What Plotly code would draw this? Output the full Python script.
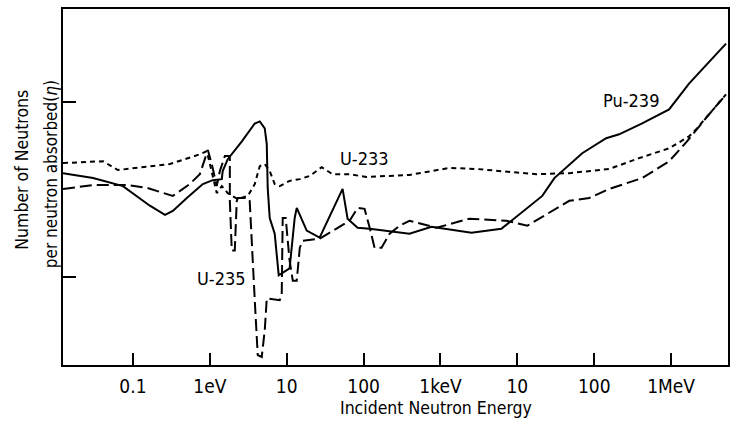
import plotly.graph_objects as go

# Incident neutron energy (eV) and eta values
pu239_E = [0.0123, 0.0303, 0.0741, 0.113, 0.166, 0.261, 0.330, 0.502, 0.811, 1.09,
           1.43, 1.47, 1.71, 2.61, 3.84, 4.46, 5.18, 5.50, 5.66, 6.01,
           6.98, 7.87, 10.9, 12.7, 13.5, 18.2, 26.8, 53.3, 61.9, 83.6,
           120, 395, 764, 2530, 6190, 21100, 30300, 69800, 143000, 211000,
           420000, 942000, 1.71e6, 5.18e6]
pu239_eta = [2.298, 2.284, 2.261, 2.233, 2.205, 2.179, 2.190, 2.227, 2.267, 2.278,
             2.281, 2.304, 2.338, 2.389, 2.440, 2.446, 2.426, 2.381, 2.256, 2.170,
             2.125, 2.006, 2.026, 2.170, 2.199, 2.134, 2.114, 2.253, 2.168, 2.142,
             2.139, 2.125, 2.145, 2.128, 2.139, 2.233, 2.284, 2.355, 2.398, 2.409,
             2.440, 2.480, 2.554, 2.668]

u235_E = [0.0123, 0.0303, 0.0836, 0.152, 0.330, 0.549, 0.741, 0.942, 1.06, 1.23,
          1.35, 1.57, 1.82, 1.82, 1.93, 2.11, 2.24, 2.31, 3.12, 3.30,
          3.84, 4.20, 4.73, 5.18, 5.50, 8.11, 8.61, 8.87, 9.70, 10.9,
          12.0, 13.5, 14.8, 16.1, 26.8, 39.5, 65.8, 83.6, 103, 120,
          139, 171, 218, 294, 395, 887, 2380, 7200, 13500, 47300,
          86100, 157000, 420000, 942000, 1.61e6, 3.12e6, 5.18e6]
u235_eta = [2.253, 2.264, 2.264, 2.256, 2.233, 2.267, 2.295, 2.364, 2.324, 2.261,
            2.304, 2.347, 2.347, 2.219, 2.077, 2.077, 2.219, 2.227, 2.227, 2.219,
            1.935, 1.778, 1.773, 1.849, 1.940, 1.935, 1.949, 2.170, 2.170, 2.048,
            1.991, 1.991, 2.085, 2.105, 2.111, 2.134, 2.162, 2.199, 2.196, 2.142,
            2.085, 2.085, 2.125, 2.148, 2.162, 2.142, 2.168, 2.162, 2.148, 2.219,
            2.227, 2.253, 2.284, 2.332, 2.389, 2.466, 2.523]

u233_E = [0.0123, 0.0408, 0.0638, 0.135, 0.303, 0.741, 0.914, 1.09, 1.23, 1.43,
          1.71, 2.31, 3.12, 3.84, 4.46, 5.18, 6.01, 6.98, 8.11, 10.9,
          14.8, 19.9, 28.5, 39.5, 65.8, 109, 395, 1310, 2940, 17700,
          47300, 157000, 384000, 942000, 1.71e6, 2.11e6, 5.18e6]
u233_eta = [2.327, 2.332, 2.307, 2.315, 2.324, 2.352, 2.361, 2.290, 2.241, 2.261,
            2.241, 2.224, 2.233, 2.267, 2.318, 2.324, 2.304, 2.267, 2.261, 2.276,
            2.281, 2.290, 2.315, 2.295, 2.295, 2.287, 2.293, 2.313, 2.310, 2.295,
            2.298, 2.310, 2.341, 2.369, 2.403, 2.423, 2.523]

x_tickvals = [0.1, 1, 10, 100, 1e3, 1e4, 1e5, 1e6]
x_ticktext = ["0.1", "1eV", "10", "100", "1keV", "10", "100", "1MeV"]
y_tickvals = [2.0, 2.5]

FONT = "Liberation Sans Narrow, DejaVu Sans Condensed, sans-serif"

fig = go.Figure()
fig.add_trace(go.Scatter(x=pu239_E, y=pu239_eta, mode="lines", name="Pu-239",
                         line=dict(color="black", width=2)))
fig.add_trace(go.Scatter(x=u235_E, y=u235_eta, mode="lines", name="U-235",
                         line=dict(color="black", width=2, dash="12px,5px")))
fig.add_trace(go.Scatter(x=u233_E, y=u233_eta, mode="lines", name="U-233",
                         line=dict(color="black", width=2, dash="5px,4px")))

fig.update_layout(
    width=737, height=425,
    margin=dict(l=63, r=8, t=7, b=60),
    paper_bgcolor="white", plot_bgcolor="white",
    showlegend=False,
    font=dict(family=FONT, color="black", size=17),
    xaxis=dict(type="log", range=[-1.91, 6.74], tickvals=x_tickvals, ticktext=x_ticktext,
               ticks="inside", ticklen=12, tickwidth=1.5, tickcolor="black",
               ticklabelstandoff=3,
               showline=True, linecolor="black", linewidth=2, mirror=True,
               showgrid=False, zeroline=False, tickfont=dict(size=19)),
    yaxis=dict(range=[1.75, 2.767], tickvals=y_tickvals, showticklabels=False,
               ticks="inside", ticklen=13, tickwidth=1.5, tickcolor="black",
               showline=True, linecolor="black", linewidth=2, mirror=True,
               showgrid=False, zeroline=False),
    annotations=[
        dict(text="Incident Neutron Energy", xref="paper", yref="paper", x=0.561, y=-0.120,
             xanchor="center", yanchor="middle", showarrow=False, font=dict(size=17.5)),
        dict(text="Number of Neutrons", xref="paper", yref="paper",
             x=-0.063, y=0.549, xanchor="center", yanchor="middle", textangle=-90,
             showarrow=False, font=dict(size=17.5)),
        dict(text="per neutron absorbed(<i>η</i>)", xref="paper", yref="paper",
             x=-0.019, y=0.537, xanchor="center", yanchor="middle", textangle=-90,
             showarrow=False, font=dict(size=17)),
        dict(text="U-233", xref="paper", yref="paper", x=0.4535, y=0.581,
             xanchor="center", yanchor="middle", showarrow=False, font=dict(size=18)),
        dict(text="Pu-239", xref="paper", yref="paper", x=0.854, y=0.743,
             xanchor="center", yanchor="middle", showarrow=False, font=dict(size=18)),
        dict(text="U-235", xref="paper", yref="paper", x=0.239, y=0.243,
             xanchor="center", yanchor="middle", showarrow=False, font=dict(size=18)),
    ],
)

fig.write_html("out.html", config={"displayModeBar": False},
               post_script="document.body.style.margin='0';")
